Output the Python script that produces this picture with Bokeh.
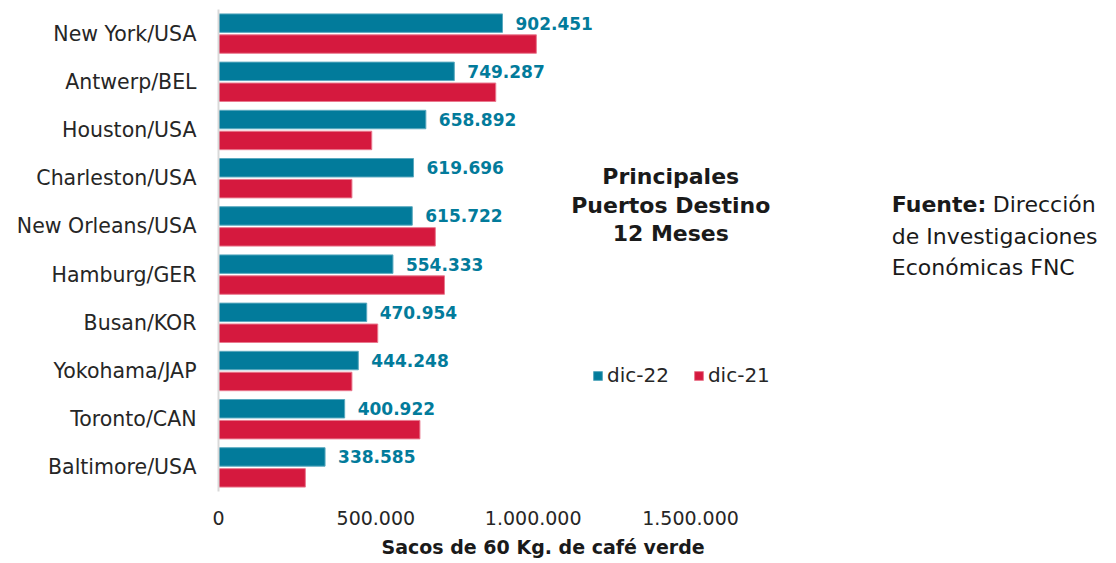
from bokeh.plotting import figure
from bokeh.models import (ColumnDataSource, FactorRange, Range1d, FixedTicker,
                          Label, Legend, LegendItem, Title)
from bokeh.transform import dodge
from bokeh.core.properties import value
from bokeh.embed import file_html
from bokeh.resources import INLINE

# ---------------- data ----------------
ports = ["New York/USA", "Antwerp/BEL", "Houston/USA", "Charleston/USA",
         "New Orleans/USA", "Hamburg/GER", "Busan/KOR", "Yokohama/JAP",
         "Toronto/CAN", "Baltimore/USA"]
dic_22 = [902451, 749287, 658892, 619696, 615722, 554333, 470954, 444248,
          400922, 338585]
dic_21 = [1010000, 881000, 487000, 424000, 689000, 718000, 506000, 424000,
          640000, 276000]
series_names = ["dic-22", "dic-21"]
x_ticks = [0, 500000, 1000000, 1500000]
title_lines = ["Principales", "Puertos Destino", "12 Meses"]
source_bold = "Fuente:"
source_lines = ["Dirección", "de Investigaciones", "Económicas FNC"]
axis_title = "Sacos de 60 Kg. de café verde"


def fmt(v):
    return f"{v:,}".replace(",", ".")


# ---------------- style ----------------
FONT = "DejaVu Sans"
BLUE = "#027B9B"
BLUE_EDGE = "#5aa9bf"
RED = "#D5193E"
RED_EDGE = "#e9798e"
TXT = "#262626"
DARK = "#1a1a1a"

src = ColumnDataSource(dict(
    port=ports, d22=dic_22, d21=dic_21, lab=[fmt(v) for v in dic_22]))

p = figure(width=1116, height=563,
           y_range=FactorRange(factors=ports[::-1]),
           x_range=Range1d(0, 2853500),
           output_backend="svg", toolbar_location=None,
           min_border_left=218, min_border_right=0,
           min_border_top=9, min_border_bottom=71)
p.outline_line_color = None
p.xgrid.grid_line_color = None
p.ygrid.grid_line_color = None
p.background_fill_color = "white"
p.border_fill_color = "white"

r22 = p.hbar(y=dodge("port", 0.217, range=p.y_range), left=0, right="d22",
             height=0.383, source=src, fill_color=BLUE,
             line_color=BLUE_EDGE, line_width=1)
r21 = p.hbar(y=dodge("port", -0.217, range=p.y_range), left=0, right="d21",
             height=0.383, source=src, fill_color=RED,
             line_color=RED_EDGE, line_width=1)

p.text(x="d22", y=dodge("port", 0.217, range=p.y_range), text="lab",
       source=src, x_offset=13, text_align="left", text_baseline="middle",
       text_font=value(FONT), text_font_style="bold",
       text_font_size="17px", text_color=BLUE)

# axes
p.yaxis.axis_line_color = "#d9d9d9"
p.yaxis.axis_line_width = 2
p.yaxis.major_tick_line_color = None
p.yaxis.minor_tick_line_color = None
p.yaxis.major_label_standoff = 16
p.yaxis.major_label_text_font = FONT
p.yaxis.major_label_text_font_size = "20.5px"
p.yaxis.major_label_text_color = TXT

p.xaxis.axis_line_color = None
p.xaxis.major_tick_line_color = None
p.xaxis.minor_tick_line_color = None
p.xaxis.ticker = FixedTicker(ticks=x_ticks)
p.xaxis.major_label_overrides = {t: fmt(t) for t in x_ticks}
p.xaxis.major_label_standoff = 13
p.xaxis.major_label_text_font = FONT
p.xaxis.major_label_text_font_size = "19px"
p.xaxis.major_label_text_color = TXT

# x axis title (placed below the axis, left aligned at an offset)
p.add_layout(Title(text=axis_title, align="left", offset=163, standoff=12,
                   text_font=FONT, text_font_style="bold",
                   text_font_size="19px", text_color=DARK), "below")

# legend
legend = Legend(items=[LegendItem(label=series_names[0], renderers=[r22]),
                       LegendItem(label=series_names[1], renderers=[r21])],
                location=(374, 104), orientation="horizontal",
                glyph_width=11, glyph_height=11, label_standoff=4,
                spacing=24, padding=0, margin=0,
                border_line_alpha=0, background_fill_alpha=0,
                label_text_font=FONT, label_text_font_size="20px",
                label_text_color=TXT)
p.add_layout(legend)

# chart title inside plot
for txt, yy in zip(title_lines, [6.531, 5.931, 5.352]):
    p.add_layout(Label(x=1437000, y=yy, text=txt, text_align="center",
                       text_baseline="middle", text_font=FONT,
                       text_font_style="bold", text_font_size="22px",
                       text_color=DARK))

# source note
p.add_layout(Label(x=2139500, y=5.952, text=source_bold, text_align="left",
                   text_baseline="middle", text_font=FONT,
                   text_font_style="bold", text_font_size="22px",
                   text_color=DARK))
for i, (txt, yy) in enumerate(zip(source_lines, [5.952, 5.29, 4.648])):
    p.add_layout(Label(x=2139500, y=yy, x_offset=(101 if i == 0 else 0),
                       text=txt, text_align="left", text_baseline="middle",
                       text_font=FONT, text_font_size="22px",
                       text_color=DARK))

open("out.html", "w").write(file_html(p, INLINE))
